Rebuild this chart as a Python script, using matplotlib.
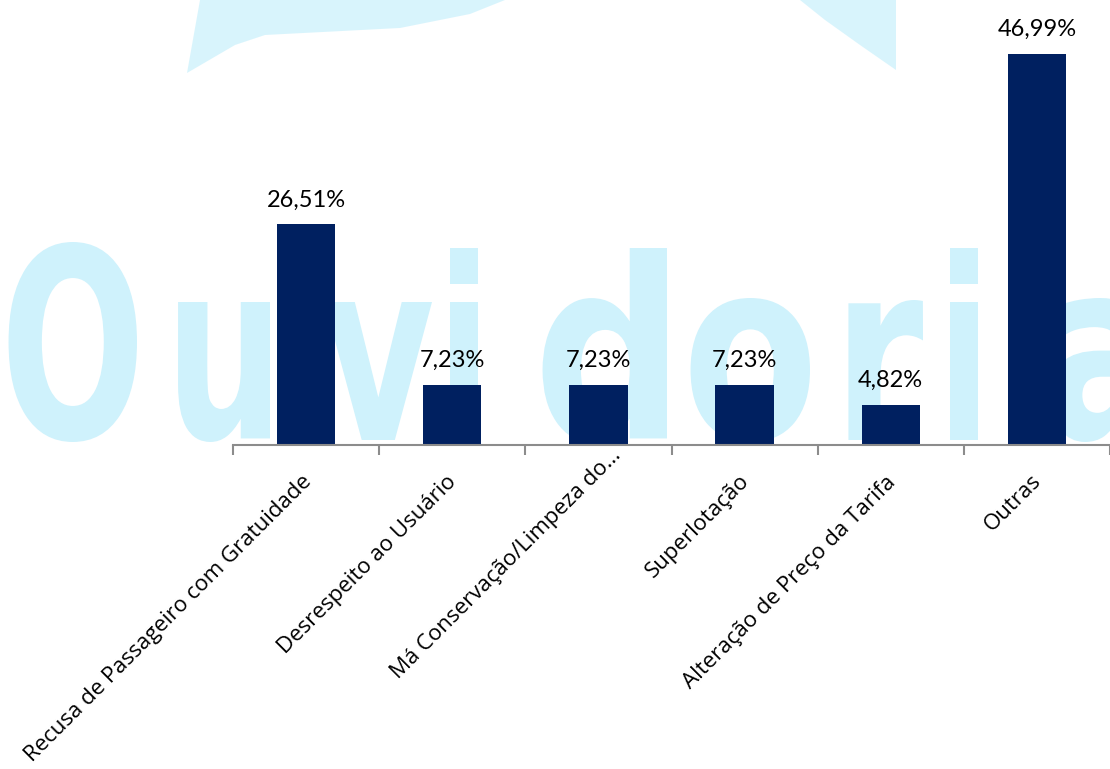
import matplotlib
matplotlib.use("Agg")
import matplotlib.pyplot as plt
from matplotlib.textpath import TextPath
from matplotlib.patches import PathPatch, Polygon
from matplotlib.font_manager import FontProperties
from matplotlib.transforms import Affine2D, ScaledTranslation, blended_transform_factory

# --- data -------------------------------------------------------------
categorias = [
    "Recusa de Passageiro com Gratuidade",
    "Desrespeito ao Usuário",
    "Má Conservação/Limpeza do…",
    "Superlotação",
    "Alteração de Preço da Tarifa",
    "Outras",
]
percentuais = [26.51, 7.23, 7.23, 7.23, 4.82, 46.99]

# --- figure -----------------------------------------------------------
W, H = 1110, 769
DPI = 100
fig = plt.figure(figsize=(W / DPI, H / DPI), dpi=DPI)
fig.patch.set_facecolor("white")

# background layer in pixel coordinates (y downwards) for the watermark
bg = fig.add_axes([0, 0, 1, 1], zorder=0)
bg.set_xlim(0, W)
bg.set_ylim(H, 0)
bg.axis("off")

WM = "#cff2fc"

# "Ouvidoria" watermark, each glyph fitted into its own box
glifos = [
    ("O", 0, 137, 242, 442),
    ("u", 165, 270, 302, 442),
    ("v", 322, 432, 302, 440),
    ("i", 437, 478, 248, 440),
    ("d", 533, 667, 248, 442),
    ("o", 682, 810, 298, 442),
    ("r", 833, 923, 300, 440),
    ("i", 937, 978, 248, 440),
    ("a", 1043, 1150, 298, 442),
]
fp = FontProperties(family="DejaVu Sans", weight="bold")
for ch, x0, x1, top, bot in glifos:
    tp = TextPath((0, 0), ch, size=100, prop=fp)
    v = tp.vertices
    gx0, gx1 = v[:, 0].min(), v[:, 0].max()
    gy0, gy1 = v[:, 1].min(), v[:, 1].max()
    sx = (x1 - x0) / (gx1 - gx0)
    sy = (bot - top) / (gy1 - gy0)
    tr = Affine2D().translate(-gx0, -gy0).scale(sx, -sy).translate(x0, bot)
    bg.add_patch(PathPatch(tr.transform_path(tp), facecolor=WM,
                           edgecolor="none"))

# logo swooshes along the top edge
bg.add_patch(Polygon([(200, 0), (187, 73), (235, 45), (265, 35), (400, 28),
                      (470, 14), (505, 0)], closed=True, facecolor=WM,
                     edgecolor="none", alpha=0.8))
bg.add_patch(Polygon([(800, 0), (896, 0), (896, 70), (860, 45), (825, 20)],
                     closed=True, facecolor=WM, edgecolor="none", alpha=0.8))

# --- bar chart --------------------------------------------------------
left_px, base_px = 233, 445
ax = fig.add_axes([left_px / W, (H - base_px) / H, (W - left_px) / W, base_px / H],
                  zorder=1)
ax.patch.set_alpha(0)

x = list(range(len(categorias)))
ax.bar(x, percentuais, width=0.40, color="#002060", zorder=2)
ax.set_xlim(-0.5, len(categorias) - 0.5)
ax.set_ylim(0, 53.5)

for s in ("top", "right", "left"):
    ax.spines[s].set_visible(False)
ax.spines["bottom"].set_color("#8c8c8c")
ax.spines["bottom"].set_linewidth(1.5)
ax.set_yticks([])
ax.set_xticks([])
ax.set_xticks([i - 0.5 for i in range(len(categorias) + 1)], minor=True)
ax.tick_params(axis="x", which="minor", length=7, width=1.5, color="#8c8c8c",
               direction="out")

# value labels
for xi, val in zip(x, percentuais):
    ax.annotate(f"{val:.2f}".replace(".", ",") + "%", (xi, val),
                xytext=(0, 10), textcoords="offset points",
                ha="center", va="bottom", fontsize=17,
                family=["Lato", "DejaVu Sans"], color="black")

# rotated category labels
trans = blended_transform_factory(ax.transData, ax.transAxes)
deslocamentos = [(6, -37), (5, -38), (23, -11), (5, -37), (6, -38), (5, -37)]
for xi, lab, (dx, dy) in zip(x, categorias, deslocamentos):
    off = ScaledTranslation(dx / DPI, dy / DPI, fig.dpi_scale_trans)
    ax.text(xi, 0, lab, transform=trans + off, rotation=45,
            rotation_mode="anchor", ha="right", va="baseline",
            fontsize=16, family=["Open Sans", "DejaVu Sans"], color="black",
            clip_on=False)

fig.savefig("out.png", dpi=DPI, facecolor="white")
